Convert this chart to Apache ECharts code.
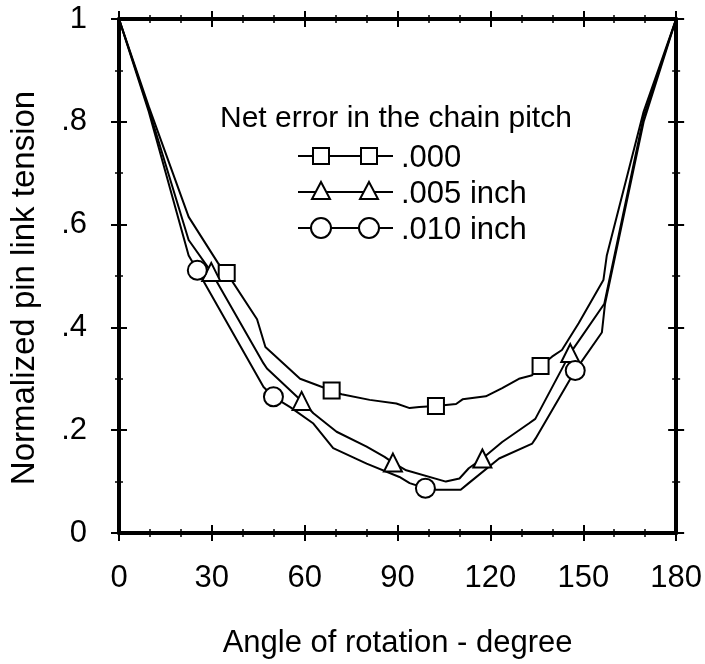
<!DOCTYPE html>
<html>
<head>
<meta charset="utf-8">
<script src="https://cdn.jsdelivr.net/npm/echarts@6/dist/echarts.min.js"></script>
<style>
  html, body { margin: 0; padding: 0; background: #fff; }
  #chart { width: 705px; height: 664px; }
</style>
</head>
<body>
<div id="chart"></div>
<script>
// 曲线数据（角度, 归一化张力）
var squareX = [0, 9.6, 22.5, 32, 34.8, 44.6, 47.3, 58.5, 63.9, 68.7, 71.9, 81, 89.6, 93.9, 97, 102.4, 108.9, 111, 118.5, 123.8, 129.2, 133.5, 136.2, 139.9, 143.1, 148.5, 156.5, 157.6, 169.5, 180]
var squareY = [1, 0.83, 0.615, 0.525, 0.506, 0.416, 0.362, 0.30, 0.288, 0.277, 0.27, 0.259, 0.252, 0.243, 0.245, 0.247, 0.251, 0.26, 0.266, 0.282, 0.30, 0.307, 0.325, 0.343, 0.356, 0.408, 0.492, 0.54, 0.82, 1]
var triX = [0, 9.6, 22.5, 29.8, 46.7, 47.8, 59, 62.8, 70.3, 80, 85.8, 88.5, 92.8, 105.6, 110, 113, 117.4, 123.8, 132.4, 134.5, 145.8, 156.8, 169.5, 180]
var triY = [1, 0.825, 0.57, 0.508, 0.33, 0.32, 0.257, 0.233, 0.197, 0.168, 0.148, 0.137, 0.122, 0.10, 0.106, 0.126, 0.145, 0.177, 0.213, 0.222, 0.35, 0.446, 0.81, 1]
var cirX = [0, 9.6, 22.5, 25.3, 46.7, 49.9, 55.3, 62.8, 69.2, 80, 90.6, 93.9, 99, 102.4, 110.4, 113, 122.8, 133.5, 134.6, 147.4, 156, 157, 169.5, 180]
var cirY = [1, 0.82, 0.54, 0.511, 0.284, 0.265, 0.245, 0.213, 0.165, 0.135, 0.109, 0.097, 0.087, 0.084, 0.084, 0.097, 0.145, 0.174, 0.184, 0.316, 0.39, 0.445, 0.80, 1]

// 标记点
var squareMarkX = [34.8, 68.7, 102.4, 136.2]
var squareMarkY = [0.506, 0.277, 0.247, 0.325]
var triMarkX = [29.8, 59, 88.5, 117.4, 145.8]
var triMarkY = [0.508, 0.257, 0.137, 0.145, 0.35]
var cirMarkX = [25.3, 49.9, 99, 147.4]
var cirMarkY = [0.511, 0.265, 0.087, 0.316]

// 图例与刻度
var legendTitle = 'Net error in the chain pitch'
var legendNames = ['.000', '.005 inch', '.010 inch']
var yTickLabels = ['0', '.2', '.4', '.6', '.8', '1']

var FONT = 'Liberation Sans, Arial, Helvetica, sans-serif'

function zip (xs, ys) {
  return xs.map(function (x, i) { return [x, ys[i]] })
}

// 坐标轴（外刻度 + 内刻度，模拟穿过轴线的刻度）
function xAxisOf (position, inside, main) {
  return {
    type: 'value', min: 0, max: 180, interval: 30, position: position,
    axisLine: { show: !inside, onZero: false, lineStyle: { color: '#000', width: 4 } },
    axisTick: { show: true, inside: inside, length: 8, lineStyle: { color: '#000', width: 2 } },
    minorTick: { show: true, splitNumber: 3, length: 4, lineStyle: { color: '#000', width: 1.5 } },
    splitLine: { show: false },
    axisLabel: { show: main, margin: 30, color: '#000', fontSize: 31, fontFamily: FONT },
    name: main ? 'Angle of rotation - degree' : '',
    nameLocation: 'middle',
    nameGap: 95,
    nameTextStyle: { color: '#000', fontSize: 31, fontFamily: FONT }
  }
}
function yAxisOf (position, inside, main) {
  return {
    type: 'value', min: 0, max: 1, interval: 0.2, position: position,
    axisLine: { show: !inside, onZero: false, lineStyle: { color: '#000', width: 4 } },
    axisTick: { show: true, inside: inside, length: 8, lineStyle: { color: '#000', width: 2 } },
    minorTick: { show: true, splitNumber: 2, length: 4, lineStyle: { color: '#000', width: 1.5 } },
    splitLine: { show: false },
    axisLabel: {
      show: main, margin: 32, color: '#000', fontSize: 31, fontFamily: FONT,
      formatter: function (v) { return yTickLabels[Math.round(v / 0.2)] }
    },
    name: main ? 'Normalized pin link tension' : '',
    nameLocation: 'middle',
    nameGap: 78,
    nameTextStyle: { color: '#000', fontSize: 33, fontFamily: FONT, padding: [0, 24, 0, 0] }
  }
}

function lineSeries (xs, ys) {
  return {
    type: 'line', data: zip(xs, ys), showSymbol: false, symbol: 'none',
    lineStyle: { color: '#000', width: 2 }, silent: true, z: 2
  }
}
function markSeries (xs, ys, symbol, size) {
  return {
    type: 'scatter', data: zip(xs, ys), symbol: symbol, symbolSize: size,
    itemStyle: { color: '#fff', borderColor: '#000', borderWidth: 2, opacity: 1 }, z: 3
  }
}

// 图例（手绘）
function legendRow (y, kind) {
  var items = [{ type: 'line', shape: { x1: 298, y1: y, x2: 393, y2: y }, style: { stroke: '#000', lineWidth: 2 } }]
  ;[321, 369].forEach(function (cx) {
    var shape
    if (kind === 'rect') {
      shape = { type: 'rect', shape: { x: cx - 8, y: y - 8, width: 16, height: 16 } }
    } else if (kind === 'tri') {
      shape = { type: 'polygon', shape: { points: [[cx, y - 10], [cx + 9, y + 7], [cx - 9, y + 7]] } }
    } else {
      shape = { type: 'circle', shape: { cx: cx, cy: y, r: 10 } }
    }
    shape.style = { fill: '#fff', stroke: '#000', lineWidth: 2 }
    items.push(shape)
  })
  return items
}

var chart = echarts.init(document.getElementById('chart'), null, { renderer: 'canvas' })
var legendRows = [['rect', 156], ['tri', 192], ['circle', 228]]
var graphics = [{
  type: 'text', left: 220, top: 104,
  style: { text: legendTitle, fill: '#000', font: '30px ' + FONT }
}]
legendRows.forEach(function (r, i) {
  graphics = graphics.concat(legendRow(r[1], r[0]))
  graphics.push({
    type: 'text', left: 401, top: r[1] - 13,
    style: { text: legendNames[i], fill: '#000', font: '31px ' + FONT }
  })
})

chart.setOption({
  backgroundColor: '#fff',
  animation: false,
  grid: { left: 118, right: 27, top: 19, bottom: 131, containLabel: false },
  xAxis: [xAxisOf('bottom', false, true), xAxisOf('bottom', true, false), xAxisOf('top', false, false), xAxisOf('top', true, false)],
  yAxis: [yAxisOf('left', false, true), yAxisOf('left', true, false), yAxisOf('right', false, false), yAxisOf('right', true, false)],
  series: [
    lineSeries(squareX, squareY),
    lineSeries(triX, triY),
    lineSeries(cirX, cirY),
    markSeries(squareMarkX, squareMarkY, 'rect', 16),
    markSeries(triMarkX, triMarkY, 'triangle', 18),
    markSeries(cirMarkX, cirMarkY, 'circle', 19)
  ],
  graphic: graphics
})
</script>
</body>
</html>
